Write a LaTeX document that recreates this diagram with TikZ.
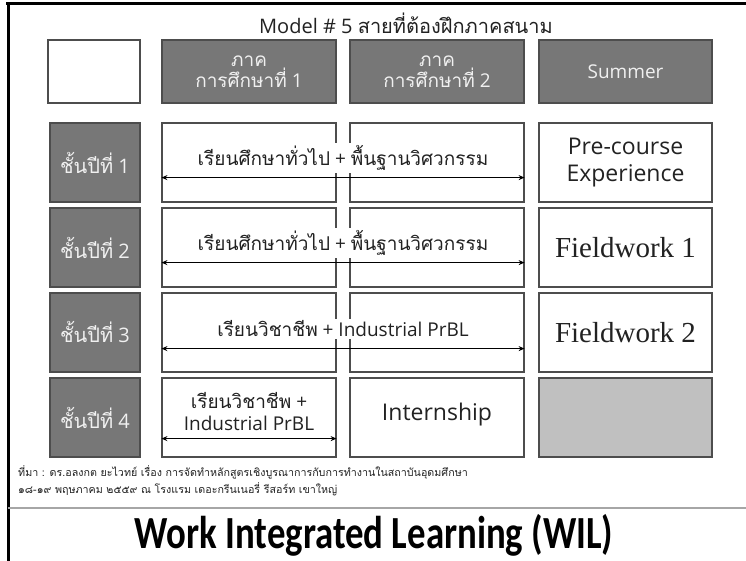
\documentclass[tikz,border=0pt]{standalone}
\usepackage{fontspec}
\setmainfont{Open Sans}
\newfontfamily\thai[Script=Thai]{Loma}
\newfontfamily\serifw{Liberation Serif}
\newfontfamily\wilfont[FakeStretch=0.8]{Carlito}
\usetikzlibrary{arrows.meta}
\definecolor{boxgray}{HTML}{777777}
\definecolor{edgegray}{HTML}{4D4D4D}
\definecolor{lightfill}{HTML}{C0C0C0}
\definecolor{textgray}{HTML}{222222}

\begin{document}
\begin{tikzpicture}[x=1pt,y=-1pt,
  cell/.style={draw=edgegray,line width=1.2pt,minimum width=174pt,minimum height=79pt,inner sep=0pt,align=center,text=textgray},
  dark/.style={cell,fill=boxgray,text=white!94!black,font=\fontsize{19}{21}\selectfont},
  span/.style={fill=white,inner sep=2pt,align=center,text=textgray,font=\fontsize{19}{22}\selectfont},
  both/.style={{Stealth[length=6pt,width=5pt]}-{Stealth[length=6pt,width=5pt]},line width=1.1pt,black}]

       \useasboundingbox (0,0) rectangle (746,561);
       \fill[white] (0,0) rectangle (746,561);
       \draw[line width=3pt] (6,4) -- (746,4);
       \draw[line width=3pt] (8,3) -- (8,561);

       \node[anchor=base,inner sep=0pt,text=textgray,font=\fontsize{20}{24}\selectfont] (title) at (406,34) {Model \# 5 {\thai สายที่ต้องฝึกภาคสนาม}};

       \node[cell,minimum width=92pt,minimum height=63pt] (h0) at (94,71.5) {};
       \node[dark,minimum height=63pt] (h1) at (249,71.5) {{\thai ภาค}\\{\thai การศึกษาที่} 1};
       \node[dark,minimum height=63pt] (h2) at (437,71.5) {{\thai ภาค}\\{\thai การศึกษาที่} 2};
       \node[dark,minimum width=173pt,minimum height=63pt] (h3) at (625.5,71.5) {Summer};

       \foreach \r in {1,...,4} {
           \node[dark,minimum width=90pt,font=\fontsize{20}{24}\selectfont] (y\r) at (95,77.5+85*\r) {{\thai ชั้นปีที่} \r};
           \node[cell] (a\r) at (249,77.5+85*\r) {};
           \node[cell] (b\r) at (437,77.5+85*\r) {};
       }

       \node[cell,minimum width=173pt,font=\fontsize{23}{27}\selectfont] (c1) at (625.5,162.5) {Pre-course\\Experience};
       \node[cell,minimum width=173pt,font=\serifw\fontsize{29}{32}\selectfont] (c2) at (625.5,247.5) {Fieldwork 1};
       \node[cell,minimum width=173pt,font=\serifw\fontsize{29}{32}\selectfont] (c3) at (625.5,332.5) {Fieldwork 2};
       \node[cell,minimum width=173pt,fill=lightfill] (c4) at (625.5,417.5) {};

       \node[span] (t1) at (343,158) {{\thai เรียนศึกษาทั่วไป} + {\thai พื้นฐานวิศวกรรม}};
       \node[span] (t2) at (343,243) {{\thai เรียนศึกษาทั่วไป} + {\thai พื้นฐานวิศวกรรม}};
       \node[span] (t3) at (343,329) {{\thai เรียนวิชาชีพ} + Industrial PrBL};
       \node[span] (t4) at (249,412) {{\thai เรียนวิชาชีพ} +\\Industrial PrBL};
       \node[span,font=\fontsize{23}{26}\selectfont] (t5) at (437,415) {Internship};

       \draw[both] ([yshift=25pt]a1.south west) -- ([yshift=25pt]b1.south east);
       \draw[both] ([yshift=25pt]a2.south west) -- ([yshift=25pt]b2.south east);
       \draw[both] ([yshift=24pt]a3.south west) -- ([yshift=24pt]b3.south east);
       \draw[both] ([yshift=19pt]a4.south west) -- ([yshift=19pt]a4.south east);

       \node[anchor=west,inner sep=0pt,text=textgray,font=\thai\fontsize{10.7}{12}\selectfont] (src1) at (18,472) {ที่มา : ดร.อลงกต ยะไวทย์ เรื่อง การจัดทำหลักสูตรเชิงบูรณาการกับการทำงานในสถาบันอุดมศึกษา};
       \node[anchor=west,inner sep=0pt,text=textgray,font=\thai\fontsize{10.7}{12}\selectfont] (src2) at (18,489) {๑๘-๑๙ พฤษภาคม ๒๕๕๙ ณ โรงแรม เดอะกรีนเนอรี่ รีสอร์ท เขาใหญ่};

       \draw[black!35,line width=1.2pt] (8,508) -- (746,508);
       \node[font=\wilfont\bfseries\fontsize{46}{50}\selectfont] (wil) at (374,535) {Work Integrated Learning (WIL)};
     \end{tikzpicture}
\end{document}
